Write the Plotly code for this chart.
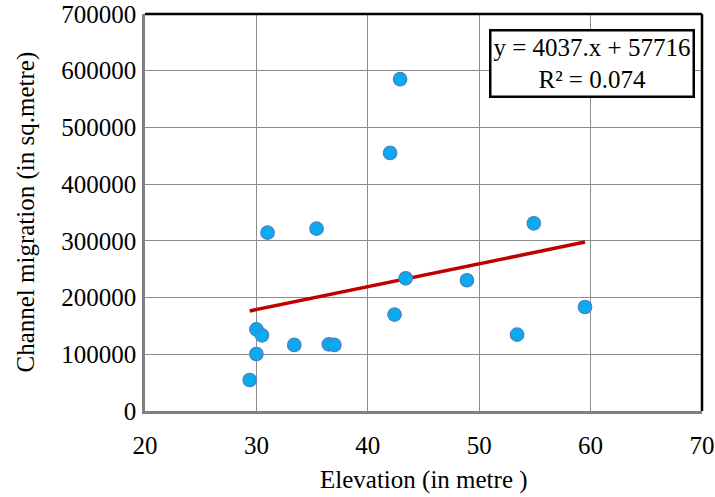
import plotly.graph_objects as go

elevation = [29.4, 30.0, 30.0, 30.5, 33.4, 36.5, 37.0, 31.0, 35.4, 42.0, 42.9, 42.4, 43.4, 48.9, 53.4, 54.9, 59.5]
migration = [54700, 100500, 144000, 133500, 116500, 117500, 116500, 314500, 321500, 455000, 585000, 170000, 234000, 230500, 134600, 331000, 183400]

slope = 4037
intercept = 57716
r2 = 0.074

x_ticks = [20, 30, 40, 50, 60, 70]
y_ticks = [0, 100000, 200000, 300000, 400000, 500000, 600000, 700000]

x_title = "Elevation (in metre )"
y_title = "Channel migration (in sq.metre)"

xmin, xmax = min(elevation), max(elevation)
trend_x = [xmin, xmax]
trend_y = [slope * v + intercept for v in trend_x]

font_family = "Liberation Serif"
FS = 25

fig = go.Figure()
fig.add_trace(go.Scatter(
    x=trend_x, y=trend_y, mode="lines",
    line=dict(color="#C00000", width=3.5),
    showlegend=False, hoverinfo="skip"))
fig.add_trace(go.Scatter(
    x=elevation, y=migration, mode="markers",
    marker=dict(size=13.5, color="#0AAAEE", line=dict(color="#4A7FC8", width=1.2)),
    showlegend=False))

fig.update_layout(
    width=715, height=497,
    margin=dict(l=145, r=13, t=14, b=86),
    paper_bgcolor="white", plot_bgcolor="white",
    font=dict(family=font_family, size=FS, color="black"),
    xaxis=dict(
        range=[20, 70], tickvals=x_ticks, ticktext=[str(v) for v in x_ticks],
        showgrid=True, gridcolor="#8C8C8C", gridwidth=1.3,
        showline=True, linecolor="#808080", linewidth=2.5,
        zeroline=False, ticks="", ticklabelstandoff=10, automargin=False,
        ticklabeloverflow="allow", tickfont=dict(size=FS)),
    yaxis=dict(
        range=[0, 700000], tickvals=y_ticks, ticktext=[str(v) for v in y_ticks],
        showgrid=True, gridcolor="#8C8C8C", gridwidth=1.3,
        showline=True, linecolor="#808080", linewidth=2.5,
        zeroline=False, ticks="", ticklabelstandoff=1, automargin=False,
        ticklabeloverflow="allow", tickfont=dict(size=FS)),
    shapes=[
        dict(type="line", xref="paper", yref="paper", x0=0, x1=1, y0=1, y1=1,
             line=dict(color="black", width=2.5)),
        dict(type="line", xref="paper", yref="paper", x0=1, x1=1, y0=0, y1=1,
             line=dict(color="black", width=2.5)),
    ],
    annotations=[
        dict(xref="paper", yref="paper", x=0.987, y=0.962, xanchor="right", yanchor="top",
             text=f"y = {slope}.x + {intercept}<br>R² = {r2}",
             showarrow=False, align="center",
             font=dict(family=font_family, size=FS, color="black"),
             bgcolor="white", bordercolor="black", borderwidth=2.5, borderpad=2),
        dict(xref="paper", yref="paper", x=0.5, y=-0.174, xanchor="center", yanchor="middle",
             text=x_title, showarrow=False,
             font=dict(family=font_family, size=FS, color="black")),
        dict(xref="paper", yref="paper", x=-0.2154, y=0.5, xanchor="center", yanchor="middle",
             text=y_title, showarrow=False, textangle=-90,
             font=dict(family=font_family, size=FS, color="black")),
    ],
)

fig.write_html("out.html", config={"displayModeBar": False},
               post_script="document.body.style.margin='0';")
